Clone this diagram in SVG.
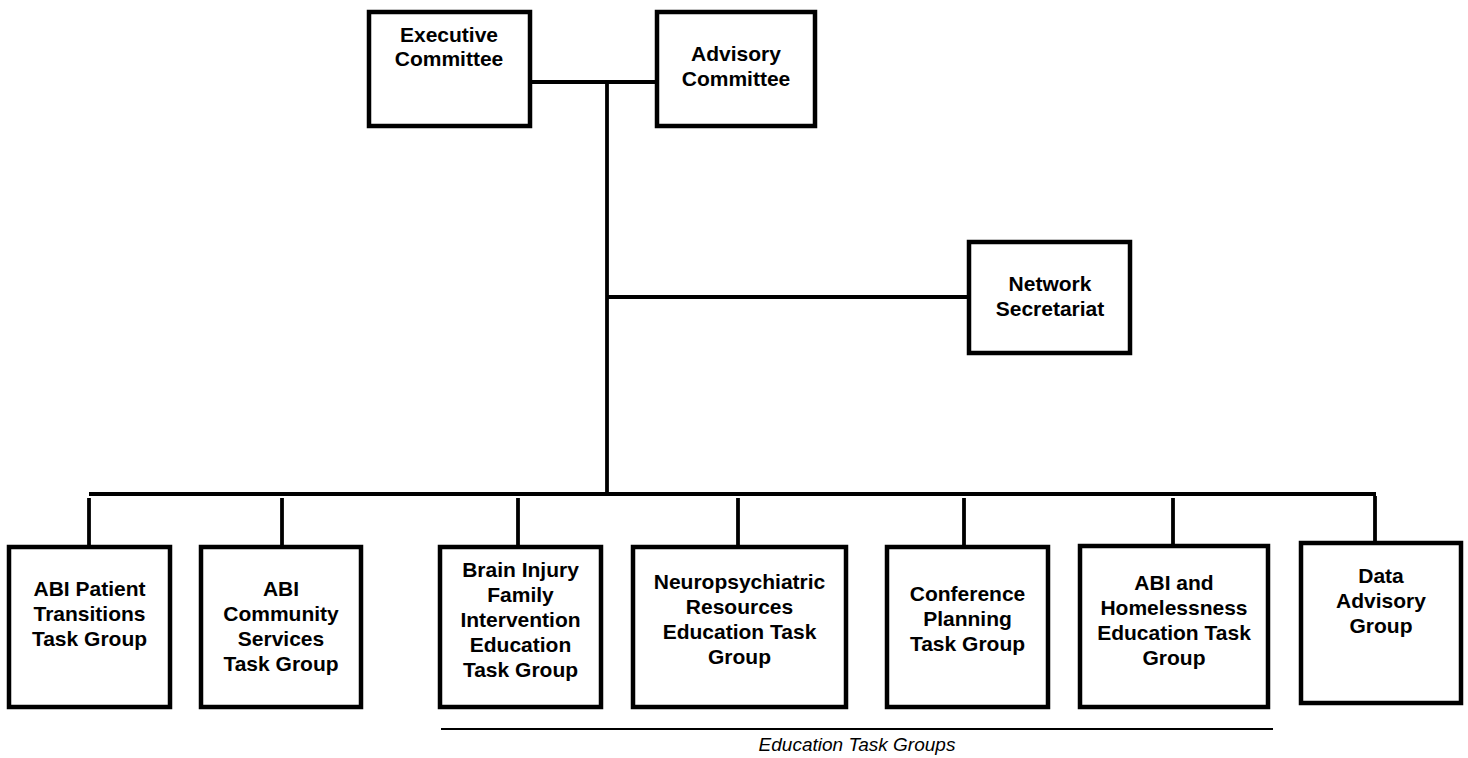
<svg xmlns="http://www.w3.org/2000/svg" width="1468" height="758" viewBox="0 0 1468 758">
<style>
.box{fill:#fff;stroke:#000;stroke-width:4.5}
.ln{stroke:#000;stroke-width:3.8;fill:none}
.t{font-family:"Liberation Sans",Arial,sans-serif;font-weight:bold;font-size:21px;text-anchor:middle;fill:#000}
.it{font-family:"Liberation Sans",Arial,sans-serif;font-style:italic;font-size:19px;text-anchor:middle;fill:#000}
</style>
<rect width="1468" height="758" fill="#fff"/>
<g id="connectors">
<line class="ln" x1="532" y1="82" x2="655" y2="82"/>
<line class="ln" x1="607" y1="82" x2="607" y2="494"/>
<line class="ln" x1="607" y1="297" x2="967" y2="297"/>
<line class="ln" x1="89" y1="494" x2="1376" y2="494"/>
<line class="ln" x1="89" y1="498" x2="89" y2="545"/>
<line class="ln" x1="282" y1="498" x2="282" y2="545"/>
<line class="ln" x1="518" y1="498" x2="518" y2="545"/>
<line class="ln" x1="738" y1="498" x2="738" y2="545"/>
<line class="ln" x1="964" y1="498" x2="964" y2="545"/>
<line class="ln" x1="1173" y1="498" x2="1173" y2="544"/>
<line class="ln" x1="1375" y1="496" x2="1375" y2="541"/>
</g>
<g id="executive-committee">
<rect class="box" x="369" y="12" width="161" height="114"/>
<text class="t" x="449" y="42">Executive</text>
<text class="t" x="449" y="66">Committee</text>
</g>
<g id="advisory-committee">
<rect class="box" x="657" y="12" width="158" height="114"/>
<text class="t" x="736" y="61">Advisory</text>
<text class="t" x="736" y="86">Committee</text>
</g>
<g id="network-secretariat">
<rect class="box" x="969" y="242" width="161" height="111"/>
<text class="t" x="1050" y="291">Network</text>
<text class="t" x="1050" y="316">Secretariat</text>
</g>
<g id="abi-patient-transitions">
<rect class="box" x="9" y="547" width="161" height="160"/>
<text class="t" x="89.5" y="596">ABI Patient</text>
<text class="t" x="89.5" y="621">Transitions</text>
<text class="t" x="89.5" y="646">Task Group</text>
</g>
<g id="abi-community-services">
<rect class="box" x="201" y="547" width="160" height="160"/>
<text class="t" x="281" y="596">ABI</text>
<text class="t" x="281" y="621">Community</text>
<text class="t" x="281" y="646">Services</text>
<text class="t" x="281" y="671">Task Group</text>
</g>
<g id="brain-injury-family">
<rect class="box" x="440" y="547" width="161" height="160"/>
<text class="t" x="520.5" y="577">Brain Injury</text>
<text class="t" x="520.5" y="602">Family</text>
<text class="t" x="520.5" y="627">Intervention</text>
<text class="t" x="520.5" y="652">Education</text>
<text class="t" x="520.5" y="677">Task Group</text>
</g>
<g id="neuropsychiatric-resources">
<rect class="box" x="633" y="547" width="213" height="160"/>
<text class="t" x="739.5" y="589">Neuropsychiatric</text>
<text class="t" x="739.5" y="614">Resources</text>
<text class="t" x="739.5" y="639">Education Task</text>
<text class="t" x="739.5" y="664">Group</text>
</g>
<g id="conference-planning">
<rect class="box" x="887" y="547" width="161" height="160"/>
<text class="t" x="967.5" y="601">Conference</text>
<text class="t" x="967.5" y="626">Planning</text>
<text class="t" x="967.5" y="651">Task Group</text>
</g>
<g id="abi-homelessness">
<rect class="box" x="1080" y="546" width="188" height="161"/>
<text class="t" x="1174" y="590">ABI and</text>
<text class="t" x="1174" y="615">Homelessness</text>
<text class="t" x="1174" y="640">Education Task</text>
<text class="t" x="1174" y="665">Group</text>
</g>
<g id="data-advisory">
<rect class="box" x="1301" y="543" width="160" height="160"/>
<text class="t" x="1381" y="583">Data</text>
<text class="t" x="1381" y="608">Advisory</text>
<text class="t" x="1381" y="633">Group</text>
</g>
<g id="education-task-groups">
<line x1="441" y1="729" x2="1273" y2="729" stroke="#000" stroke-width="2"/>
<text class="it" x="857" y="751">Education Task Groups</text>
</g>
</svg>
